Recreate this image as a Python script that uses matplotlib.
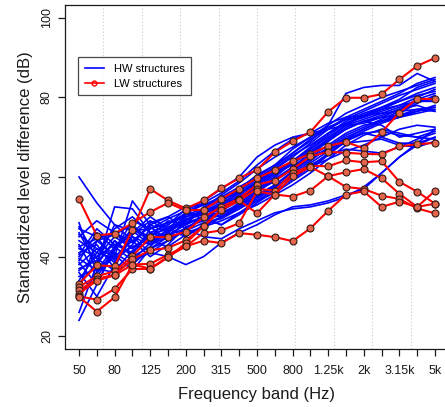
import matplotlib

matplotlib.use("Agg")
import matplotlib.pyplot as plt
import numpy as np
from matplotlib.lines import Line2D

plt.rcParams["font.family"] = ["Liberation Sans", "DejaVu Sans"]

# one-third octave bands, 50 Hz .. 5 kHz
BANDS = ["50", "63", "80", "100", "125", "160", "200", "250", "315", "400",
         "500", "630", "800", "1k", "1.25k", "1.6k", "2k", "2.5k", "3.15k",
         "4k", "5k"]
TICK_LABELS = ["50", "", "80", "", "125", "", "200", "", "315", "", "500",
               "", "800", "", "1.25k", "", "2k", "", "3.15k", "", "5k"]

# heavyweight structures (blue)
hw_01 = [60.0, 53.5, 48.0, 46.5, 47.0, 48.5, 50.0, 51.5, 53.0, 55.0, 57.0, 59.5, 62.0, 64.5, 67.0, 70.0, 72.0, 74.0, 75.5, 77.0, 77.5]
hw_02 = [24.0, 33.0, 42.0, 47.0, 44.0, 46.0, 49.0, 52.0, 55.5, 58.5, 62.0, 65.0, 67.5, 70.0, 73.0, 76.0, 78.0, 80.0, 81.5, 83.0, 84.5]
hw_03 = [26.0, 38.0, 52.5, 52.0, 46.0, 48.0, 51.0, 53.5, 56.0, 59.0, 63.0, 66.5, 69.5, 71.0, 73.5, 75.0, 75.5, 76.0, 76.5, 77.0, 76.5]
hw_04 = [48.5, 36.0, 40.0, 54.0, 48.0, 46.0, 50.5, 52.0, 54.0, 57.0, 60.5, 63.0, 66.0, 69.5, 72.0, 74.5, 76.5, 78.5, 80.5, 82.0, 83.5]
hw_05 = [45.0, 49.0, 46.0, 42.0, 45.0, 47.5, 49.0, 51.0, 53.0, 56.0, 59.0, 62.0, 65.5, 68.0, 71.0, 73.5, 75.0, 77.0, 79.0, 81.0, 82.5]
hw_06 = [40.0, 44.0, 45.5, 48.0, 44.0, 45.5, 48.0, 50.0, 52.0, 54.5, 57.0, 60.0, 63.5, 66.0, 69.0, 72.5, 74.0, 75.5, 77.0, 79.5, 81.0]
hw_07 = [38.0, 42.0, 40.0, 44.0, 47.5, 44.0, 47.0, 49.5, 51.0, 53.0, 56.0, 59.5, 62.5, 65.0, 68.0, 71.0, 73.0, 74.0, 75.0, 76.0, 77.0]
hw_08 = [36.0, 30.0, 38.0, 45.0, 43.0, 46.0, 50.0, 51.0, 50.0, 52.0, 55.0, 58.0, 61.0, 64.0, 67.5, 70.5, 72.5, 74.5, 76.5, 79.0, 80.0]
hw_09 = [42.0, 40.0, 43.0, 41.0, 46.0, 48.0, 52.0, 49.0, 50.5, 53.5, 56.5, 59.0, 62.0, 65.5, 69.0, 72.0, 74.0, 73.0, 70.0, 71.0, 72.0]
hw_10 = [35.0, 37.0, 36.0, 39.0, 41.0, 40.0, 38.0, 40.0, 43.5, 46.0, 48.0, 50.5, 52.5, 53.0, 54.0, 55.5, 57.0, 61.0, 65.0, 68.5, 72.0]
hw_11 = [47.0, 45.0, 39.0, 43.0, 48.5, 50.0, 47.0, 50.0, 48.0, 51.0, 54.0, 57.0, 60.5, 63.5, 66.5, 69.5, 72.0, 74.0, 76.0, 78.5, 80.5]
hw_12 = [44.0, 41.0, 47.0, 50.0, 46.0, 44.5, 49.0, 51.5, 53.5, 56.0, 58.5, 61.5, 64.0, 67.0, 70.0, 73.0, 74.5, 76.0, 77.5, 79.0, 79.5]
hw_13 = [33.0, 38.5, 44.0, 40.0, 42.5, 47.0, 45.0, 48.0, 50.0, 52.5, 55.5, 58.0, 61.5, 64.5, 67.0, 69.5, 71.0, 71.5, 70.5, 70.0, 69.5]
hw_14 = [39.0, 46.0, 42.0, 46.0, 50.0, 47.0, 51.0, 53.0, 55.0, 57.5, 60.0, 63.0, 67.0, 70.0, 72.5, 74.5, 75.0, 76.5, 78.0, 80.0, 82.0]
hw_15 = [43.0, 35.0, 41.0, 38.0, 42.0, 45.0, 46.0, 47.5, 49.0, 51.0, 53.0, 55.5, 58.0, 61.0, 64.5, 68.0, 70.5, 72.0, 71.0, 70.0, 71.5]
hw_16 = [37.0, 39.0, 48.0, 44.0, 40.0, 43.0, 47.5, 49.0, 51.5, 54.0, 56.5, 59.0, 62.5, 66.0, 69.5, 73.0, 75.5, 77.5, 79.5, 82.5, 84.0]
hw_17 = [41.0, 43.0, 37.0, 47.0, 45.0, 49.0, 48.0, 52.5, 54.5, 56.0, 58.0, 61.0, 63.0, 65.0, 67.0, 68.5, 69.0, 69.5, 68.0, 67.5, 69.0]
hw_18 = [46.0, 38.0, 44.0, 40.5, 47.0, 48.5, 50.5, 51.0, 52.5, 55.0, 58.0, 61.0, 64.0, 67.5, 71.0, 74.0, 76.0, 77.5, 79.0, 80.5, 81.5]
hw_19 = [34.0, 41.0, 39.5, 42.5, 44.5, 46.5, 49.5, 50.5, 51.0, 53.0, 56.0, 60.0, 64.0, 67.0, 70.5, 73.5, 75.5, 77.0, 78.0, 79.0, 79.0]
hw_20 = [40.5, 47.0, 43.0, 45.0, 41.0, 44.0, 46.5, 48.5, 49.5, 52.0, 54.5, 57.5, 60.5, 63.0, 65.5, 67.0, 66.5, 66.0, 67.5, 69.5, 71.0]
hw_21 = [30.0, 36.0, 41.5, 49.0, 47.0, 49.5, 51.5, 54.0, 57.0, 60.0, 65.0, 68.0, 70.0, 71.0, 72.0, 73.0, 73.5, 75.0, 77.0, 78.0, 76.5]
hw_22 = [45.5, 42.0, 38.5, 45.5, 49.0, 46.5, 48.5, 50.0, 51.0, 52.5, 54.0, 56.0, 59.0, 62.0, 65.5, 69.0, 71.5, 73.5, 75.0, 76.5, 78.0]
hw_23 = [38.5, 33.0, 42.5, 39.0, 43.5, 45.5, 47.0, 45.0, 44.5, 47.0, 49.0, 51.0, 52.0, 52.5, 53.5, 55.0, 57.5, 61.0, 65.0, 68.0, 70.0]
hw_24 = [42.5, 44.5, 46.0, 43.5, 48.0, 50.0, 52.5, 53.0, 54.0, 56.5, 59.5, 62.5, 66.0, 69.0, 73.0, 81.0, 82.5, 83.0, 83.0, 86.0, 84.0]
hw_25 = [36.5, 40.0, 45.0, 42.0, 45.5, 47.0, 49.0, 51.0, 52.5, 55.5, 58.5, 62.0, 65.0, 68.5, 72.0, 75.0, 77.0, 79.0, 81.0, 83.5, 85.0]
hw_26 = [47.5, 39.5, 36.5, 41.5, 44.0, 42.5, 45.5, 47.5, 50.0, 53.0, 55.0, 57.5, 60.0, 62.5, 64.5, 66.5, 68.0, 70.0, 72.0, 73.0, 72.5]
hw_27 = [32.0, 44.0, 40.5, 36.5, 42.0, 44.0, 47.0, 50.0, 53.0, 55.0, 57.5, 60.5, 63.5, 66.5, 69.5, 72.0, 74.0, 75.0, 75.5, 76.5, 77.5]
hw_28 = [39.5, 36.5, 42.5, 46.5, 43.0, 45.0, 48.5, 49.5, 48.0, 50.5, 53.5, 56.5, 59.5, 62.5, 66.0, 69.0, 71.0, 70.0, 68.5, 68.5, 70.0]

# lightweight structures (red, with markers)
lw_1 = [33.2, 37.8, 37.6, 46.8, 57.0, 54.1, 52.1, 54.1, 57.2, 59.7, 61.8, 66.2, 69.0, 71.3, 76.4, 79.9, 79.9, 80.8, 84.5, 87.9, 89.9]
lw_2 = [54.4, 45.3, 45.8, 48.4, 51.2, 53.5, 51.6, 51.8, 54.5, 57.1, 59.7, 61.7, 64.0, 65.8, 67.8, 68.8, 67.2, 71.2, 76.2, 79.6, 79.6]
lw_3 = [32.4, 35.1, 36.3, 40.1, 44.9, 44.9, 46.3, 49.9, 52.5, 54.6, 58.1, 59.1, 62.0, 65.2, 66.3, 66.1, 65.8, 65.7, 67.7, 68.2, 68.6]
lw_4 = [31.5, 34.4, 35.5, 39.3, 41.6, 42.2, 44.1, 47.6, 51.8, 54.1, 57.0, 56.6, 61.0, 62.8, 62.7, 64.2, 63.7, 64.0, 58.8, 56.3, 53.3]
lw_5 = [30.7, 34.0, 35.3, 38.0, 38.2, 40.5, 42.6, 45.9, 46.6, 48.4, 56.4, 55.6, 60.2, 62.5, 60.2, 61.2, 62.0, 59.7, 55.8, 52.5, 56.5]
lw_6 = [30.0, 29.2, 31.9, 36.9, 36.9, 39.8, 43.4, 47.6, 51.8, 54.1, 50.9, 55.6, 55.1, 56.6, 60.2, 57.5, 57.0, 55.3, 54.5, 52.1, 50.9]
lw_7 = [29.9, 26.2, 29.8, 38.0, 37.0, 40.0, 42.6, 44.0, 43.4, 45.9, 45.5, 44.9, 43.9, 47.1, 51.5, 55.6, 56.4, 52.5, 53.8, 52.5, 53.3]

HW = [hw_01, hw_02, hw_03, hw_04, hw_05, hw_06, hw_07, hw_08, hw_09, hw_10,
      hw_11, hw_12, hw_13, hw_14, hw_15, hw_16, hw_17, hw_18, hw_19, hw_20,
      hw_21, hw_22, hw_23, hw_24, hw_25, hw_26, hw_27, hw_28]
LW = [lw_1, lw_2, lw_3, lw_4, lw_5, lw_6, lw_7]

BLUE = "#0000ff"
RED = "#ff0000"
DOT_FILL = "#e3654c"
INK = "#1a1a1a"

fig = plt.figure(figsize=(4.45, 4.07), dpi=100)
ax = fig.add_axes([0.1456, 0.1425, 0.8638, 0.8452])

x = np.arange(len(BANDS))
xlim = (-0.8, len(BANDS) - 1 + 0.8)
ylim = (16.8, 103.2)

# R-style grid(nx=10): 10 equal cells across the plot region
for gx in np.linspace(xlim[0], xlim[1], 11)[1:-1]:
    ax.axvline(gx, color="#c8c8c8", linewidth=0.8, linestyle=(0, (1, 2)),
               zorder=0)

for y in HW:
    ax.plot(x, y, color=BLUE, linewidth=1.2, zorder=2)
for y in LW:
    ax.plot(x, y, color=RED, linewidth=1.5, marker="o", markersize=5.0,
            markerfacecolor=DOT_FILL, markeredgecolor="#331a14",
            markeredgewidth=0.8, zorder=3)

ax.set_xlim(*xlim)
ax.set_ylim(*ylim)
ax.set_xticks(x)
ax.set_xticklabels(TICK_LABELS)
ax.set_yticks([20, 40, 60, 80, 100])
for lbl in ax.get_yticklabels():
    lbl.set_rotation(90)
    lbl.set_va("center")
ax.tick_params(axis="both", direction="out", length=5, width=0.9,
               color=INK, labelsize=9, labelcolor=INK)
ax.tick_params(axis="x", pad=6.5)
ax.tick_params(axis="y", pad=3.5)

for side in ("left", "bottom", "top", "right"):
    ax.spines[side].set_color(INK)
    ax.spines[side].set_linewidth(0.9)

ax.set_xlabel("Frequency band (Hz)", fontsize=12, color=INK, labelpad=7)
ax.set_ylabel("Standardized level difference (dB)", fontsize=12, color=INK,
              labelpad=6)

handles = [
    Line2D([], [], color=BLUE, linewidth=1.2),
    Line2D([], [], color=RED, linewidth=1.2, marker="o", markersize=3.5,
           markerfacecolor="none", markeredgecolor=RED),
]
leg = ax.legend(handles, ["HW structures", "LW structures"],
                loc="upper left", bbox_to_anchor=(78 / 445, 1 - 57 / 407),
                bbox_transform=fig.transFigure, fontsize=8, frameon=True,
                fancybox=False, borderpad=0.6, labelspacing=0.45,
                handlelength=1.7, handletextpad=0.9, borderaxespad=0)
leg.get_frame().set_edgecolor(INK)
leg.get_frame().set_linewidth(0.9)

fig.savefig("out.png", dpi=100)
